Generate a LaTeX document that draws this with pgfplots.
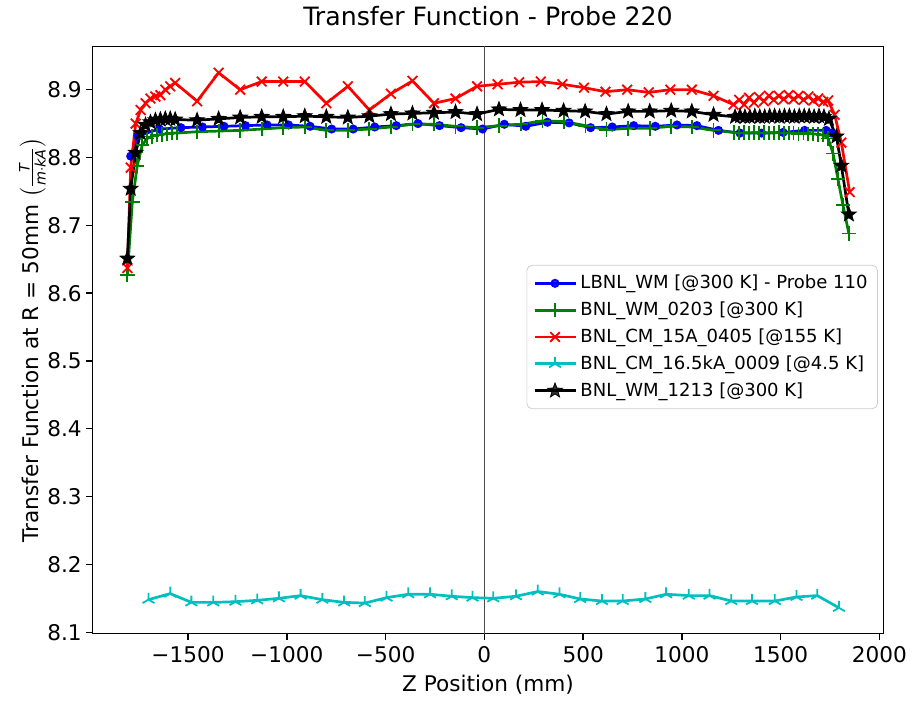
\documentclass[border=0pt]{standalone}
\usepackage{amsmath}
\usepackage{pgfplots}
\pgfplotsset{compat=1.18}
\usepackage{fontspec}
\setmainfont{DejaVu Sans}
\usetikzlibrary{plotmarks}
\definecolor{mgreen}{rgb}{0,0.5,0}
\definecolor{mcyan}{rgb}{0,0.75,0.75}
\pgfdeclareplotmark{fstar}{%
 \pgfpathmoveto{\pgfpointpolar{90}{\pgfplotmarksize}}%
 \pgfpathlineto{\pgfpointpolar{126}{0.42\pgfplotmarksize}}%
 \pgfpathlineto{\pgfpointpolar{162}{\pgfplotmarksize}}%
 \pgfpathlineto{\pgfpointpolar{198}{0.42\pgfplotmarksize}}%
 \pgfpathlineto{\pgfpointpolar{234}{\pgfplotmarksize}}%
 \pgfpathlineto{\pgfpointpolar{270}{0.42\pgfplotmarksize}}%
 \pgfpathlineto{\pgfpointpolar{306}{\pgfplotmarksize}}%
 \pgfpathlineto{\pgfpointpolar{342}{0.42\pgfplotmarksize}}%
 \pgfpathlineto{\pgfpointpolar{18}{\pgfplotmarksize}}%
 \pgfpathlineto{\pgfpointpolar{54}{0.42\pgfplotmarksize}}%
 \pgfpathclose
 \pgfusepathqfillstroke}
\begin{document}
\begin{tikzpicture}
\begin{axis}[name=ax, scale only axis, width=439pt, height=326pt,
 xmin=-1983, xmax=2020, ymin=8.098, ymax=8.964,
 xtick={-1500,-1000,-500,0,500,1000,1500,2000},
 xticklabels={−1500,−1000,−500,0,500,1000,1500,2000},
 ytick={8.1,8.2,8.3,8.4,8.5,8.6,8.7,8.8,8.9},
 yticklabels={8.1,8.2,8.3,8.4,8.5,8.6,8.7,8.8,8.9},
 tick align=outside, xtick pos=bottom, ytick pos=left,
 major tick length=3.5pt,
 every tick/.style={black, line width=0.8pt},
 axis line style={line width=0.8pt},
 tick label style={font=\fontsize{12}{14}\selectfont},
 yticklabel style={xshift=1pt},
 label style={font=\fontsize{12}{14}\selectfont},
 ylabel style={yshift=-6pt},
 title style={font=\fontsize{14}{16}\selectfont, yshift=2pt},
 title={Transfer Function - Probe 220},
 xlabel={Z Position (mm)},
 ylabel={Transfer Function at R = 50mm $\left(\textstyle\frac{\text{\itshape T}}{\text{\itshape m}\cdot\text{\itshape kA}}\right)$},
 legend style={at={(0.993,0.505)}, anchor=east, draw=black!20, fill=white, fill opacity=0.8, text opacity=1, rounded corners=3pt, font=\fontsize{10}{12}\selectfont, inner sep=3.5pt, row sep=1.8pt},
 legend cell align=left,
 legend image code/.code={\draw[mark repeat=2,mark phase=2] plot coordinates {(0cm,0cm) (0.4cm,0cm) (0.8cm,0cm)};},
 every axis plot/.append style={line width=1.5pt, mark options={solid, line width=1pt}},
]
\addplot[forget plot, black!70, line width=0.8pt, mark=none] coordinates {(0,8.0) (0,9.0)};

\addplot[blue, mark=*, mark size=2pt] coordinates {
(-1790,8.802)(-1754,8.832)(-1645,8.842)(-1536,8.844)(-1427,8.845)(-1318,8.846)(-1209,8.847)(-1100,8.848)(-991,8.848)(-882,8.846)(-773,8.842)(-664,8.842)(-555,8.845)(-446,8.847)(-336,8.850)(-227,8.847)(-118,8.844)(-9,8.842)(101,8.849)(210,8.846)(319,8.852)(429,8.851)(538,8.844)(647,8.845)(756,8.847)(865,8.846)(975,8.848)(1076,8.847)(1185,8.840)(1294,8.836)(1403,8.836)(1512,8.837)(1621,8.840)(1730,8.840)(1756,8.836)};
\addlegendentry{LBNL\_WM [@300 K] - Probe 110}

\addplot[mgreen, mark=+, mark size=4pt] coordinates {
(-1807,8.627)(-1782,8.734)(-1757,8.788)(-1732,8.818)(-1707,8.828)(-1682,8.831)(-1657,8.833)(-1632,8.834)(-1607,8.835)(-1582,8.836)(-1557,8.836)(-1454,8.838)(-1345,8.839)(-1236,8.840)(-1127,8.842)(-1018,8.844)(-909,8.845)(-800,8.840)(-691,8.840)(-582,8.842)(-473,8.845)(-364,8.849)(-255,8.849)(-146,8.846)(-37,8.844)(76,8.847)(185,8.849)(294,8.854)(403,8.853)(512,8.847)(618,8.841)(728,8.843)(837,8.843)(946,8.846)(1050,8.845)(1160,8.840)(1265,8.837)(1290,8.836)(1315,8.837)(1340,8.836)(1365,8.837)(1390,8.836)(1415,8.837)(1440,8.836)(1465,8.836)(1490,8.837)(1515,8.836)(1540,8.836)(1565,8.836)(1590,8.835)(1615,8.836)(1640,8.835)(1665,8.835)(1690,8.834)(1715,8.833)(1740,8.828)(1765,8.806)(1790,8.768)(1815,8.730)(1845,8.688)};
\addlegendentry{BNL\_WM\_0203 [@300 K]}

\addplot[red, mark=x, mark size=3.8pt] coordinates {
(-1807,8.637)(-1790,8.785)(-1765,8.850)(-1740,8.870)(-1715,8.880)(-1690,8.887)(-1665,8.890)(-1640,8.892)(-1615,8.900)(-1590,8.905)(-1565,8.910)(-1454,8.883)(-1345,8.925)(-1236,8.900)(-1127,8.912)(-1018,8.912)(-909,8.912)(-800,8.880)(-691,8.905)(-582,8.870)(-473,8.894)(-364,8.913)(-255,8.880)(-146,8.887)(-37,8.905)(67,8.908)(176,8.911)(286,8.912)(395,8.908)(504,8.903)(613,8.897)(723,8.900)(832,8.896)(941,8.900)(1050,8.900)(1160,8.891)(1261,8.878)(1290,8.885)(1315,8.878)(1340,8.888)(1365,8.881)(1390,8.889)(1415,8.883)(1440,8.891)(1465,8.885)(1490,8.891)(1515,8.886)(1540,8.892)(1565,8.886)(1590,8.891)(1615,8.885)(1640,8.890)(1665,8.884)(1690,8.887)(1715,8.882)(1740,8.884)(1773,8.863)(1807,8.822)(1849,8.749)};
\addlegendentry{BNL\_CM\_15A\_0405 [@155 K]}

\addplot[mcyan, mark=Mercedes star, mark size=3.8pt] coordinates {
(-1700,8.148)(-1590,8.157)(-1483,8.144)(-1372,8.144)(-1260,8.145)(-1150,8.147)(-1040,8.150)(-930,8.154)(-820,8.148)(-710,8.144)(-605,8.143)(-495,8.151)(-385,8.156)(-275,8.156)(-165,8.153)(-60,8.151)(45,8.150)(160,8.153)(270,8.160)(380,8.156)(485,8.149)(595,8.146)(700,8.146)(815,8.149)(920,8.156)(1035,8.154)(1140,8.154)(1250,8.146)(1355,8.146)(1470,8.146)(1580,8.152)(1685,8.154)(1795,8.136)};
\addlegendentry{BNL\_CM\_16.5kA\_0009 [@4.5 K]}

\addplot[black, mark=fstar, mark size=4.2pt, mark options={solid, line width=0.5pt, fill=black}] coordinates {
(-1807,8.651)(-1790,8.754)(-1765,8.807)(-1740,8.836)(-1715,8.848)(-1690,8.852)(-1665,8.855)(-1640,8.856)(-1615,8.857)(-1590,8.857)(-1565,8.856)(-1454,8.855)(-1345,8.857)(-1236,8.859)(-1127,8.860)(-1018,8.860)(-909,8.861)(-800,8.860)(-691,8.859)(-582,8.861)(-473,8.864)(-364,8.865)(-255,8.866)(-146,8.867)(-37,8.864)(74,8.871)(183,8.870)(292,8.870)(401,8.869)(510,8.868)(618,8.864)(728,8.868)(837,8.868)(946,8.869)(1050,8.868)(1160,8.863)(1269,8.860)(1294,8.861)(1319,8.860)(1344,8.860)(1369,8.861)(1394,8.860)(1419,8.860)(1444,8.861)(1469,8.861)(1494,8.860)(1519,8.861)(1544,8.861)(1569,8.860)(1594,8.861)(1619,8.861)(1644,8.861)(1669,8.860)(1694,8.861)(1719,8.860)(1744,8.857)(1782,8.831)(1807,8.788)(1845,8.716)};
\addlegendentry{BNL\_WM\_1213 [@300 K]}
\end{axis}
\path ([xshift=-51.4pt,yshift=-34.3pt]ax.south west) rectangle ([xshift=13.8pt,yshift=23.2pt]ax.north east);
\end{tikzpicture}
\end{document}
